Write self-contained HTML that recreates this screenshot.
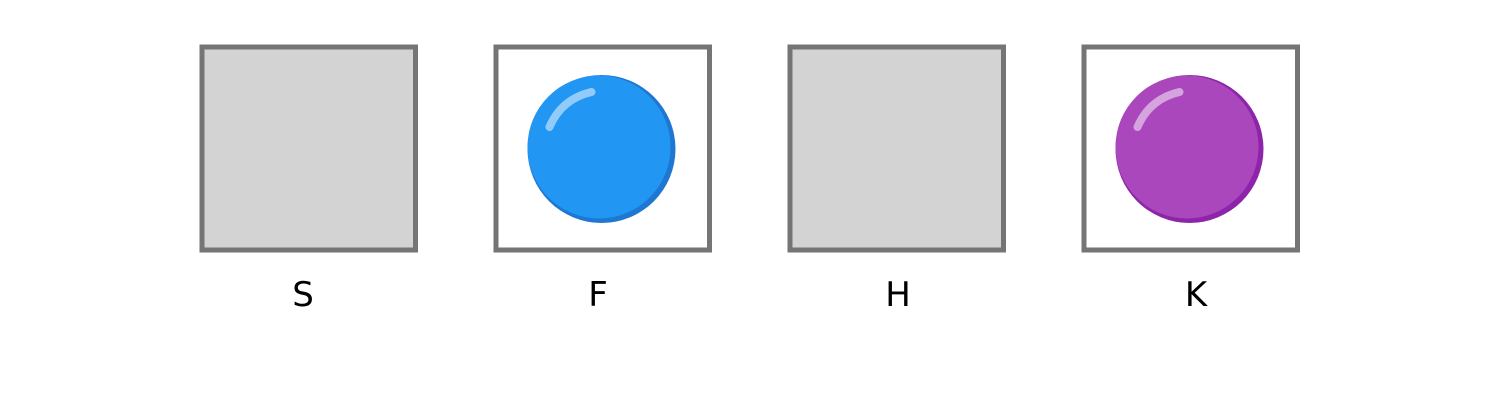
<!DOCTYPE html>
<html><head><meta charset="utf-8"><style>
body{margin:0;width:1500px;height:400px;background:#fff;overflow:hidden;font-family:"Liberation Sans","DejaVu Sans",sans-serif}
</style></head><body>
<svg width="1500" height="400">
<g id="g"></g>
</svg>
<script>
const labels=["S","F","H","K"];
const labelX=[303,598,898,1196];
const fills=[null,"#2196F3",null,"#AB47BC"];
const rims=[null,"#1E78D2",null,"#8E24AA"];
const g=document.getElementById('g');
const NS="http://www.w3.org/2000/svg";
function mk(t,a){const e=document.createElementNS(NS,t);for(const k in a)e.setAttribute(k,a[k]);return e;}
labels.forEach((l,i)=>{
  const x=202.5+i*294;
  const grp=mk('g',{});
  
  
  const r=mk('rect',{x:x-0.5,y:47,width:213.5,height:203,fill:fills[i]?'#fff':'#d3d3d3',stroke:'#757575','stroke-width':5});
  
  
  grp.appendChild(r);
  if(fills[i]){
    const cx=x+105,cy=149;
    const c1=mk('circle',{cx:cx,cy:cy,r:74,fill:rims[i]});
    
    
    grp.appendChild(c1);
    const c2=mk('circle',{cx:cx-2.5,cy:cy-2,r:71.5,fill:fills[i]});
    
    
    grp.appendChild(c2);
    const h=mk('path',{d:`M${cx-52} ${cy-22} Q${cx-40} ${cy-50} ${cx-10} ${cy-57}`,stroke:'rgba(255,255,255,0.5)','stroke-width':8,'stroke-linecap':'round',fill:'none'});
    
    
    grp.appendChild(h);
  }
  const t=mk('text',{x:labelX[i],y:306,'text-anchor':'middle','font-size':34,fill:'#000','font-family':'DejaVu Sans, Liberation Sans, sans-serif'});
  t.textContent=l;
  
  
  grp.appendChild(t);
  g.appendChild(grp);
});
</script>
</body></html>
